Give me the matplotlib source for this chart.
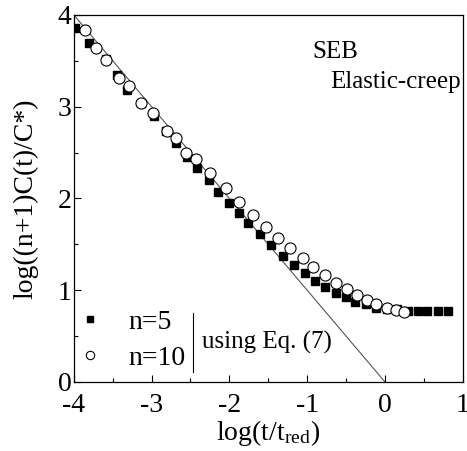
import numpy as np
import matplotlib.pyplot as plt
from matplotlib.ticker import MultipleLocator

plt.rcParams['font.family'] = ['Liberation Serif', 'DejaVu Serif']
plt.rcParams['mathtext.fontset'] = 'stix'
plt.rcParams['axes.unicode_minus'] = False

# n=5 (filled squares)
x_n5 = [-3.99, -3.81, -3.59, -3.45, -3.31, -3.14, -2.97, -2.82, -2.68, -2.55,
        -2.41, -2.26, -2.15, -2.01, -1.88, -1.76, -1.61, -1.47, -1.31, -1.17,
        -1.03, -0.90, -0.77, -0.63, -0.50, -0.38, -0.25, -0.12, 0.02, 0.15,
        0.29, 0.42, 0.54, 0.68, 0.81]
y_n5 = [3.86, 3.69, 3.52, 3.35, 3.18, 3.04, 2.90, 2.74, 2.60, 2.45,
        2.33, 2.20, 2.07, 1.95, 1.84, 1.73, 1.61, 1.49, 1.37, 1.28,
        1.19, 1.10, 1.04, 0.97, 0.93, 0.87, 0.85, 0.81, 0.80, 0.80,
        0.77, 0.77, 0.77, 0.77, 0.77]

# n=10 (open circles)
x_n10 = [-3.86, -3.72, -3.58, -3.42, -3.29, -3.13, -2.98, -2.80, -2.69, -2.56,
         -2.43, -2.25, -2.05, -1.88, -1.70, -1.53, -1.38, -1.22, -1.06, -0.92,
         -0.77, -0.63, -0.49, -0.36, -0.23, -0.11, 0.02, 0.14, 0.25]
y_n10 = [3.83, 3.64, 3.51, 3.31, 3.22, 3.04, 2.93, 2.74, 2.66, 2.50,
         2.43, 2.28, 2.11, 1.96, 1.82, 1.69, 1.57, 1.46, 1.35, 1.25,
         1.17, 1.08, 1.01, 0.95, 0.89, 0.85, 0.81, 0.78, 0.76]

# asymptote, slope -1
x_line = [-4, 0]
y_line = [4, 0]

fig = plt.figure(figsize=(4.67, 4.51), dpi=100)
ax = fig.add_axes([0.158, 0.153, 0.833, 0.814])

ax.plot(x_line, y_line, color='#555555', lw=0.8, zorder=1)
ax.plot(x_n5, y_n5, 's', color='black', ms=6.3, label='n=5', zorder=2)
ax.plot(x_n10, y_n10, 'o', mfc='white', mec='black', mew=0.8, ms=8, label='n=10', zorder=3)

ax.set_xlim(-4, 1)
ax.set_ylim(0, 4)
ax.xaxis.set_major_locator(MultipleLocator(1))
ax.xaxis.set_minor_locator(MultipleLocator(0.5))
ax.yaxis.set_major_locator(MultipleLocator(1))
ax.yaxis.set_minor_locator(MultipleLocator(0.5))
ax.tick_params(which='both', direction='in', top=False, right=False, labelsize=20)
ax.tick_params(axis='x', which='both', pad=8)
ax.tick_params(axis='y', which='both', pad=1.5)
ax.tick_params(which='major', length=5, width=0.8)
ax.tick_params(which='minor', length=3, width=0.8)
for s in ax.spines.values():
    s.set_linewidth(0.9)

ax.set_xlabel(r'log(t/t$_{\mathregular{red}}$)', fontsize=20, labelpad=0)
ax.set_ylabel('log((n+1)C(t)/C*)', fontsize=20, labelpad=14)

leg = ax.legend(loc='lower left', bbox_to_anchor=(0.0, 0.03), frameon=False,
                fontsize=20, markerscale=0.75, handlelength=1.15, handletextpad=0.8,
                labelspacing=0.38, borderaxespad=0, borderpad=0)

ax.plot([0.306, 0.306], [0.027, 0.188], transform=ax.transAxes, color='black', lw=0.8)
ax.text(0.329, 0.109, 'using Eq. (7)', transform=ax.transAxes, fontsize=18, va='center')

ax.text(0.614, 0.883, 'SEB', transform=ax.transAxes, fontsize=18, va='baseline')
ax.text(0.658, 0.801, 'Elastic-creep', transform=ax.transAxes, fontsize=18, va='baseline')

fig.savefig('out.png', dpi=100)
